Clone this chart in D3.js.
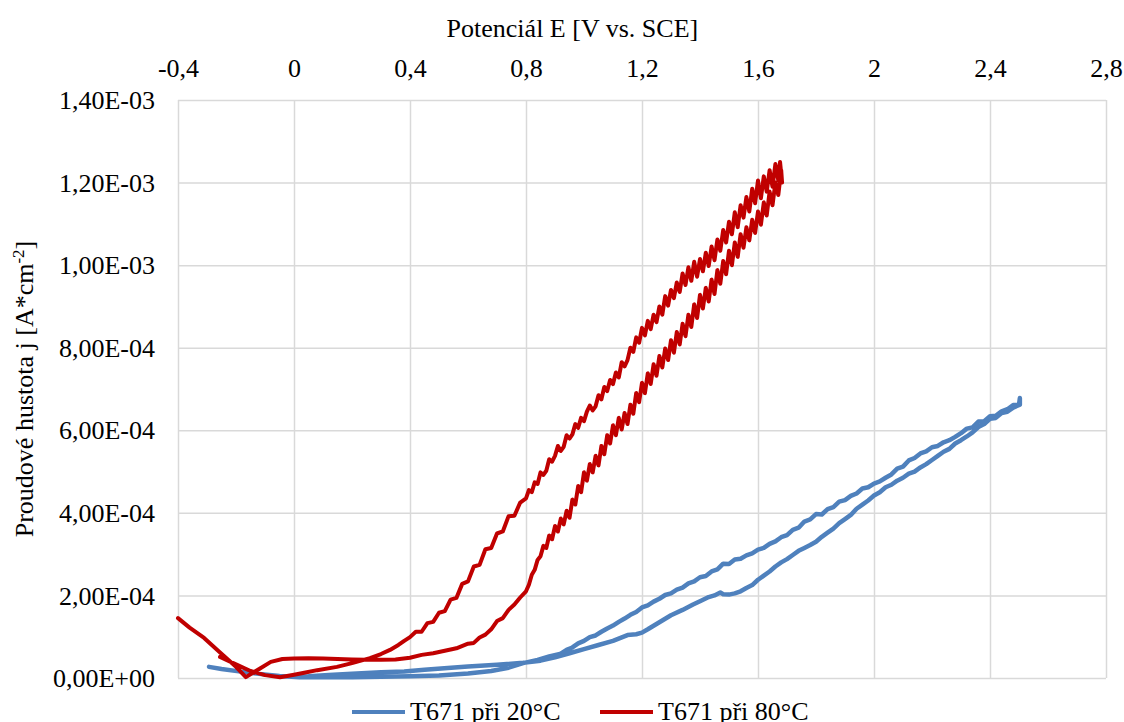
<!DOCTYPE html>
<html lang="cs">
<head>
    <meta charset="UTF-8">
    <title>T671 - proudová hustota</title>
    <style>
        html,
        body {
            margin: 0;
            height: 100%;
            overflow: hidden;
            background: #fff;
        }
    </style>
    <script src="https://d3js.org/d3.v7.min.js"></script>
</head>
<body>
    <svg id="svg"></svg>
    <script>
        // tick values
        const xTicks = [-0.4, 0, 0.4, 0.8, 1.2, 1.6, 2, 2.4, 2.8];
        const yTicks = [0, 2e-4, 4e-4, 6e-4, 8e-4, 1e-3, 1.2e-3, 1.4e-3];
        const seriesNames = ['T671 při 20°C', 'T671 při 80°C'];

        // T671 at 20 °C: [E (V vs. SCE), j (A/cm2)]
        const t20Forward = [
            [-0.293, 0.27e-4], [-0.25, 0.22e-4], [-0.19, 0.16e-4], [-0.12, 0.10e-4], [-0.05, 0.05e-4],
            [0.02, 0.02e-4], [0.10, 0.02e-4], [0.20, 0.02e-4], [0.30, 0.03e-4], [0.40, 0.04e-4],
            [0.50, 0.06e-4], [0.60, 0.11e-4], [0.68, 0.17e-4], [0.74, 0.25e-4], [0.79, 0.36e-4],
            [0.84, 0.44e-4], [0.88, 0.52e-4], [0.917, 0.58e-4], [0.94, 0.68e-4], [0.96, 0.74e-4],
            [0.98, 0.84e-4], [1.00, 0.90e-4], [1.02, 0.99e-4], [1.04, 1.03e-4], [1.06, 1.12e-4],
            [1.08, 1.20e-4], [1.10, 1.27e-4], [1.12, 1.36e-4], [1.14, 1.44e-4], [1.16, 1.53e-4],
            [1.18, 1.60e-4], [1.20, 1.71e-4], [1.22, 1.76e-4], [1.24, 1.85e-4], [1.26, 1.92e-4],
            [1.28, 2.01e-4], [1.30, 2.05e-4], [1.32, 2.14e-4], [1.34, 2.19e-4], [1.36, 2.29e-4],
            [1.38, 2.34e-4], [1.40, 2.44e-4], [1.42, 2.47e-4], [1.44, 2.58e-4], [1.46, 2.63e-4],
            [1.48, 2.77e-4], [1.50, 2.76e-4], [1.52, 2.87e-4], [1.54, 2.89e-4], [1.56, 2.97e-4],
            [1.58, 3.02e-4], [1.60, 3.11e-4], [1.62, 3.15e-4], [1.64, 3.25e-4], [1.66, 3.31e-4],
            [1.68, 3.41e-4], [1.70, 3.46e-4], [1.72, 3.59e-4], [1.74, 3.64e-4], [1.76, 3.79e-4],
            [1.78, 3.84e-4], [1.80, 3.97e-4], [1.82, 3.96e-4], [1.84, 4.09e-4], [1.86, 4.14e-4],
            [1.88, 4.27e-4], [1.90, 4.31e-4], [1.92, 4.41e-4], [1.94, 4.47e-4], [1.96, 4.59e-4],
            [1.98, 4.62e-4], [2.00, 4.71e-4], [2.02, 4.76e-4], [2.04, 4.85e-4], [2.06, 4.93e-4],
            [2.08, 5.07e-4], [2.10, 5.12e-4], [2.12, 5.27e-4], [2.14, 5.33e-4], [2.16, 5.44e-4],
            [2.18, 5.49e-4], [2.20, 5.59e-4], [2.22, 5.62e-4], [2.24, 5.71e-4], [2.26, 5.76e-4],
            [2.28, 5.84e-4], [2.30, 5.93e-4], [2.32, 6.04e-4], [2.34, 6.07e-4], [2.36, 6.21e-4],
            [2.38, 6.22e-4], [2.40, 6.34e-4], [2.42, 6.35e-4], [2.44, 6.46e-4], [2.46, 6.51e-4],
            [2.48, 6.61e-4], [2.50, 6.62e-4], [2.503, 6.78e-4]
        ];
        const t20Reverse = [
            [2.503, 6.62e-4], [2.48, 6.55e-4], [2.46, 6.45e-4], [2.44, 6.42e-4], [2.42, 6.30e-4],
            [2.40, 6.28e-4], [2.38, 6.15e-4], [2.36, 6.08e-4], [2.34, 5.95e-4], [2.32, 5.85e-4],
            [2.30, 5.76e-4], [2.28, 5.68e-4], [2.26, 5.55e-4], [2.24, 5.48e-4], [2.22, 5.38e-4],
            [2.20, 5.28e-4], [2.18, 5.18e-4], [2.16, 5.10e-4], [2.14, 5.00e-4], [2.12, 4.95e-4],
            [2.10, 4.85e-4], [2.08, 4.78e-4], [2.06, 4.68e-4], [2.04, 4.62e-4], [2.02, 4.50e-4],
            [2.00, 4.42e-4], [1.98, 4.30e-4], [1.96, 4.20e-4], [1.94, 4.10e-4], [1.92, 3.95e-4],
            [1.90, 3.85e-4], [1.88, 3.75e-4], [1.86, 3.62e-4], [1.84, 3.52e-4], [1.82, 3.42e-4],
            [1.80, 3.30e-4], [1.78, 3.22e-4], [1.76, 3.15e-4], [1.74, 3.08e-4], [1.72, 2.98e-4],
            [1.70, 2.88e-4], [1.68, 2.80e-4], [1.66, 2.70e-4], [1.64, 2.58e-4], [1.62, 2.48e-4],
            [1.60, 2.38e-4], [1.58, 2.25e-4], [1.56, 2.18e-4], [1.54, 2.10e-4], [1.52, 2.05e-4],
            [1.50, 2.02e-4], [1.48, 2.03e-4], [1.47, 2.07e-4], [1.45, 2.00e-4], [1.43, 1.96e-4],
            [1.40, 1.86e-4], [1.376, 1.78e-4], [1.34, 1.65e-4], [1.30, 1.52e-4], [1.26, 1.35e-4],
            [1.22, 1.18e-4], [1.20, 1.10e-4], [1.18, 1.06e-4], [1.15, 1.04e-4], [1.10, 0.90e-4],
            [1.05, 0.80e-4], [1.00, 0.70e-4], [0.95, 0.60e-4], [0.90, 0.50e-4], [0.85, 0.42e-4],
            [0.79, 0.37e-4], [0.70, 0.32e-4], [0.60, 0.28e-4], [0.53, 0.24e-4], [0.45, 0.20e-4],
            [0.38, 0.16e-4], [0.30, 0.14e-4], [0.20, 0.10e-4], [0.12, 0.07e-4], [0.05, 0.04e-4],
            [0.00, 0.03e-4]
        ];

        // T671 at 80 °C
        const t80Forward = [
            [-0.255, 0.51e-4], [-0.20, 0.33e-4], [-0.15, 0.17e-4], [-0.10, 0.07e-4], [-0.048, 0.02e-4],
            [0.00, 0.08e-4], [0.031, 0.12e-4], [0.08, 0.19e-4], [0.148, 0.27e-4], [0.20, 0.36e-4],
            [0.262, 0.48e-4], [0.30, 0.58e-4], [0.331, 0.68e-4], [0.36, 0.80e-4], [0.38, 0.90e-4],
            [0.40, 0.99e-4], [0.42, 1.12e-4], [0.44, 1.12e-4], [0.46, 1.33e-4], [0.48, 1.36e-4],
            [0.50, 1.58e-4], [0.52, 1.62e-4], [0.54, 1.90e-4], [0.56, 1.94e-4], [0.58, 2.28e-4],
            [0.60, 2.34e-4], [0.62, 2.70e-4], [0.64, 2.74e-4], [0.66, 3.12e-4], [0.68, 3.15e-4],
            [0.70, 3.50e-4], [0.72, 3.55e-4], [0.74, 3.92e-4], [0.76, 3.93e-4], [0.78, 4.25e-4],
            [0.80, 4.35e-4], [0.81, 4.55e-4], [0.82, 4.50e-4], [0.83, 4.74e-4], [0.84, 4.70e-4],
            [0.85, 4.98e-4], [0.86, 4.92e-4], [0.87, 5.02e-4], [0.88, 5.30e-4], [0.89, 5.24e-4],
            [0.90, 5.38e-4], [0.91, 5.62e-4], [0.92, 5.50e-4], [0.93, 5.60e-4], [0.94, 5.88e-4],
            [0.95, 5.80e-4], [0.96, 5.90e-4], [0.97, 6.15e-4], [0.98, 6.06e-4], [0.99, 6.30e-4],
            [1.00, 6.22e-4], [1.01, 6.45e-4], [1.02, 6.60e-4], [1.03, 6.48e-4], [1.04, 6.58e-4],
            [1.05, 6.85e-4], [1.06, 6.75e-4], [1.07, 7.05e-4], [1.08, 6.95e-4], [1.09, 7.22e-4],
            [1.10, 7.12e-4], [1.11, 7.40e-4], [1.12, 7.28e-4], [1.13, 7.65e-4], [1.14, 7.55e-4],
            [1.15, 7.70e-4], [1.16, 8.00e-4], [1.17, 7.90e-4], [1.18, 8.25e-4], [1.19, 8.12e-4],
            [1.20, 8.48e-4], [1.21, 8.30e-4], [1.22, 8.65e-4], [1.23, 8.45e-4], [1.24, 8.80e-4],
            [1.25, 8.62e-4], [1.26, 9.00e-4], [1.27, 8.80e-4], [1.28, 9.25e-4], [1.29, 9.02e-4],
            [1.30, 9.40e-4], [1.31, 9.20e-4], [1.32, 9.58e-4], [1.33, 9.35e-4], [1.34, 9.80e-4],
            [1.35, 9.52e-4], [1.36, 9.95e-4], [1.37, 9.62e-4], [1.38, 10.08e-4], [1.39, 9.72e-4],
            [1.40, 10.15e-4], [1.41, 9.85e-4], [1.42, 10.30e-4], [1.43, 9.98e-4], [1.44, 10.45e-4],
            [1.45, 10.12e-4], [1.46, 10.62e-4], [1.47, 10.35e-4], [1.48, 10.85e-4], [1.49, 10.55e-4],
            [1.50, 11.05e-4], [1.51, 10.75e-4], [1.52, 11.28e-4], [1.53, 10.92e-4], [1.54, 11.45e-4],
            [1.55, 11.15e-4], [1.56, 11.65e-4], [1.57, 11.30e-4], [1.58, 11.85e-4], [1.59, 11.50e-4],
            [1.60, 12.05e-4], [1.61, 11.62e-4], [1.62, 12.15e-4], [1.63, 11.78e-4], [1.64, 12.30e-4],
            [1.65, 11.90e-4], [1.66, 12.45e-4], [1.67, 12.05e-4], [1.676, 12.50e-4]
        ];
        const t80Reverse = [
            [1.683, 12.00e-4], [1.68, 12.30e-4], [1.67, 11.70e-4], [1.66, 12.00e-4], [1.65, 11.45e-4],
            [1.64, 11.78e-4], [1.63, 11.20e-4], [1.62, 11.52e-4], [1.61, 10.98e-4], [1.60, 11.30e-4],
            [1.59, 10.78e-4], [1.58, 11.10e-4], [1.57, 10.60e-4], [1.56, 10.92e-4], [1.55, 10.42e-4],
            [1.54, 10.75e-4], [1.53, 10.20e-4], [1.52, 10.55e-4], [1.51, 10.00e-4], [1.50, 10.35e-4],
            [1.49, 9.78e-4], [1.48, 10.10e-4], [1.47, 9.55e-4], [1.46, 9.88e-4], [1.45, 9.30e-4],
            [1.44, 9.65e-4], [1.43, 9.12e-4], [1.42, 9.45e-4], [1.41, 8.95e-4], [1.40, 9.28e-4],
            [1.39, 8.72e-4], [1.38, 9.05e-4], [1.37, 8.50e-4], [1.36, 8.80e-4], [1.35, 8.28e-4],
            [1.34, 8.58e-4], [1.33, 8.08e-4], [1.32, 8.38e-4], [1.31, 7.88e-4], [1.30, 8.18e-4],
            [1.29, 7.70e-4], [1.28, 7.98e-4], [1.27, 7.52e-4], [1.26, 7.80e-4], [1.25, 7.32e-4],
            [1.24, 7.60e-4], [1.23, 7.12e-4], [1.22, 7.38e-4], [1.21, 6.90e-4], [1.20, 7.15e-4],
            [1.19, 6.68e-4], [1.18, 6.90e-4], [1.17, 6.40e-4], [1.16, 6.62e-4], [1.15, 6.15e-4],
            [1.14, 6.42e-4], [1.13, 6.02e-4], [1.12, 6.30e-4], [1.11, 5.88e-4], [1.10, 6.12e-4],
            [1.09, 5.68e-4], [1.08, 5.88e-4], [1.07, 5.42e-4], [1.06, 5.62e-4], [1.05, 5.15e-4],
            [1.04, 5.38e-4], [1.03, 4.98e-4], [1.02, 5.18e-4], [1.01, 4.78e-4], [1.00, 4.98e-4],
            [0.99, 4.50e-4], [0.98, 4.65e-4], [0.97, 4.20e-4], [0.96, 4.32e-4], [0.95, 3.88e-4],
            [0.94, 4.05e-4], [0.93, 3.72e-4], [0.92, 3.86e-4], [0.91, 3.55e-4], [0.90, 3.68e-4],
            [0.89, 3.36e-4], [0.88, 3.45e-4], [0.87, 3.15e-4], [0.86, 3.20e-4], [0.85, 2.95e-4],
            [0.84, 2.86e-4], [0.83, 2.62e-4], [0.82, 2.50e-4], [0.81, 2.26e-4], [0.80, 2.10e-4],
            [0.78, 1.95e-4], [0.76, 1.78e-4], [0.74, 1.65e-4], [0.72, 1.45e-4], [0.70, 1.38e-4],
            [0.68, 1.18e-4], [0.66, 1.05e-4], [0.64, 0.98e-4], [0.62, 0.85e-4], [0.60, 0.83e-4],
            [0.56, 0.72e-4], [0.52, 0.66e-4], [0.48, 0.60e-4], [0.44, 0.56e-4], [0.40, 0.49e-4],
            [0.35, 0.45e-4], [0.30, 0.44e-4], [0.25, 0.44e-4], [0.20, 0.45e-4], [0.15, 0.46e-4],
            [0.10, 0.47e-4], [0.05, 0.48e-4], [0.00, 0.47e-4], [-0.04, 0.46e-4], [-0.08, 0.39e-4],
            [-0.12, 0.22e-4], [-0.166, 0.02e-4], [-0.20, 0.27e-4], [-0.255, 0.62e-4], [-0.31, 0.97e-4],
            [-0.36, 1.22e-4], [-0.40, 1.45e-4]
        ];

        const FONT = '"Liberation Serif", "Times New Roman", Tinos, "DejaVu Serif", serif';

        const svg = d3.select('#svg')
            .attr('width', 1124)
            .attr('height', 722)
            .style('font-family', FONT)
            .style('font-size', '26px');
        const width = +svg.attr('width');
        const height = +svg.attr('height');
        const margin = { top: 100, left: 178, bottom: 44, right: 18 };
        const innerWidth = width - margin.left - margin.right;
        const innerHeight = height - margin.top - margin.bottom;

        const g = svg.append('g').attr('transform', `translate(${margin.left},${margin.top})`);

        const xScale = d3.scaleLinear().domain([-0.4, 2.8]).range([0, innerWidth]);
        const yScale = d3.scaleLinear().domain([0, 1.4e-3]).range([innerHeight, 0]);

        const xFmt = d => d3.format('~g')(+d.toFixed(1)).replace('.', ',').replace('−', '-');
        const yFmt = d => {
            if (d === 0) return '0,00E+00';
            const e = Math.floor(Math.log10(d) + 1e-9);
            const m = d / Math.pow(10, e);
            return m.toFixed(2).replace('.', ',') + 'E' + (e < 0 ? '-' : '+') + String(Math.abs(e)).padStart(2, '0');
        };

        // gridlines + labels
        const xAxis = d3.axisTop(xScale).tickValues(xTicks).tickSize(-innerHeight).tickPadding(23).tickFormat(xFmt);
        const yAxis = d3.axisLeft(yScale).tickValues(yTicks).tickSize(-innerWidth).tickPadding(23).tickFormat(yFmt);

        const gx = g.append('g').call(xAxis);
        const gy = g.append('g').call(yAxis);
        [gx, gy].forEach(a => {
            a.attr('font-family', null).attr('font-size', null);
            a.select('.domain').remove();
            a.selectAll('line').attr('stroke', '#d9d9d9').attr('stroke-width', 1.5);
            a.selectAll('text').attr('fill', '#000');
        });
        gy.selectAll('text').attr('dy', '0.33em');

        // titles
        svg.append('text')
            .attr('x', margin.left + innerWidth * 0.425)
            .attr('y', 37)
            .attr('text-anchor', 'middle')
            .text('Potenciál E [V vs. SCE]');

        const yTitle = svg.append('text')
            .attr('transform', `translate(33,${margin.top + innerHeight / 2}) rotate(-90)`)
            .attr('text-anchor', 'middle');
        yTitle.append('tspan').text('Proudové hustota j [A*cm');
        yTitle.append('tspan').style('font-size', '17px').attr('dy', -9).text('-2');
        yTitle.append('tspan').attr('dy', 9).text(']');

        // curves
        const colors = ['#4f81bd', '#c00000'];
        const series = [
            t20Forward.concat(t20Reverse),
            t80Forward.concat(t80Reverse)
        ];
        const line = d3.line()
            .x(d => xScale(d[0]))
            .y(d => yScale(d[1]));

        svg.append('clipPath').attr('id', 'plotClip')
            .append('rect').attr('x', -3).attr('y', -3)
            .attr('width', innerWidth + 6).attr('height', innerHeight + 6);

        g.append('g').attr('clip-path', 'url(#plotClip)')
            .selectAll('path.curve').data(series).join('path')
            .attr('class', 'curve')
            .attr('d', line)
            .attr('fill', 'none')
            .attr('stroke', (d, i) => colors[i])
            .attr('stroke-width', (d, i) => i === 0 ? 4.5 : 4)
            .attr('stroke-linejoin', 'round')
            .attr('stroke-linecap', 'round');

        // legend
        const legendX = [352, 600];
        const legend = svg.append('g').selectAll('g').data(seriesNames).join('g')
            .attr('transform', (d, i) => `translate(${legendX[i]},712)`);
        legend.append('line')
            .attr('x1', 0).attr('x2', 53)
            .attr('stroke', (d, i) => colors[i])
            .attr('stroke-width', 4);
        legend.append('text')
            .attr('x', 58).attr('y', 8)
            .text(d => d);
    </script>
</body>
</html>
